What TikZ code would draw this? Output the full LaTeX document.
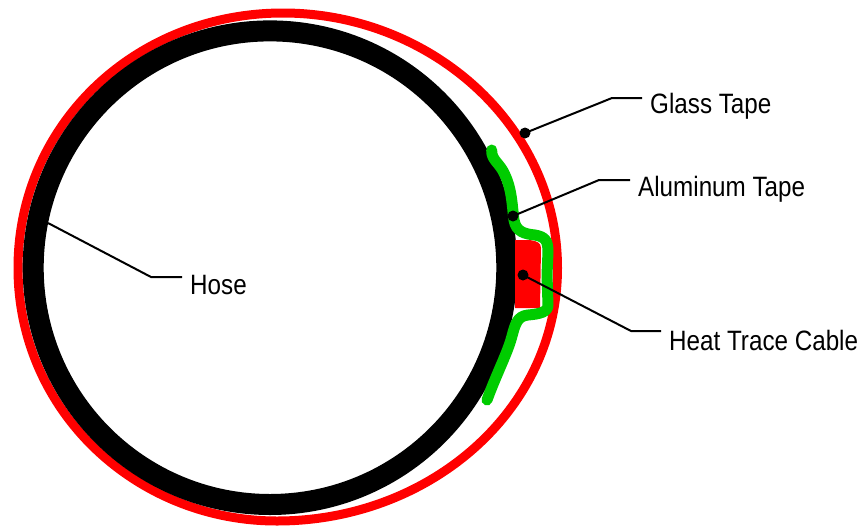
\documentclass[tikz,border=0pt]{standalone}
\usepackage{fontspec}
\setmainfont[FakeStretch=0.865]{Liberation Sans}
\definecolor{tapered}{RGB}{255,0,0}
\definecolor{tapegreen}{RGB}{0,204,0}
\tikzset{
  leader/.style={draw=black,line width=2pt},
  dotmark/.style={circle,fill=black,minimum size=11pt,inner sep=0pt},
  partlabel/.style={anchor=west,inner sep=0pt,font=\fontsize{28}{32}\selectfont}
}
\begin{document}
\begin{tikzpicture}[x=1pt,y=-1pt]
  \useasboundingbox (0,0) rectangle (863,528);
  % glass tape, hose, cable, aluminum tape
  \draw[tapered,line width=9pt] (557.5,268) .. controls (557.5,125) and (430,13) .. (283,13)
    .. controls (135,13) and (18,125) .. (18,268)
    .. controls (18,410) and (135,521) .. (277,521)
    .. controls (430,521) and (557.5,410) .. (557.5,268) -- cycle;
  \draw[black,line width=21pt] (270,267.7) circle (236.8);
  \fill[tapered] (515,240) -- (530,240) .. controls (537,241) and (541,243) .. (541,248)
    -- (540,308) -- (515,308) -- cycle;
  \draw[tapegreen,line width=11pt,line cap=round,line join=round]
    (491.7,150) .. controls (491,160) and (500,163) .. (505,175)
    .. controls (512,190) and (512,205) .. (514,220)
    .. controls (516,232) and (525,234) .. (535,235)
    .. controls (545,237) and (548,240) .. (548,252)
    -- (547,275) -- (548,305)
    .. controls (548,312) and (540,314) .. (528,315)
    .. controls (517,316) and (515,325) .. (512,336)
    .. controls (508,352) and (496,375) .. (487,400);
  % labels
  \node[partlabel] (glasstape) at (650,106) {Glass Tape};
  \node[partlabel] (alutape) at (638,189) {Aluminum Tape};
  \node[partlabel] (cable) at (669,340) {Heat Trace Cable};
  \node[partlabel] (hose) at (190,285) {Hose};
  % leaders
  \node[dotmark] (glassdot) at (525,133) {};
  \node[dotmark] (aludot) at (513,216) {};
  \node[dotmark] (cabledot) at (523,275) {};
  \coordinate (hosestart) at (48,223);
  \coordinate (glassend) at (642,98);
  \coordinate (aluend) at (630,180);
  \coordinate (cableend) at (661,331);
  \coordinate (hoseend) at (182,277);
  \draw[leader] (glassdot.center) -- (612,98) -- (glassend);
  \draw[leader] (aludot.center) -- (599,180) -- (aluend);
  \draw[leader] (cabledot.center) -- (631,331) -- (cableend);
  \draw[leader] (hosestart) -- (151,277) -- (hoseend);
\end{tikzpicture}
\end{document}
